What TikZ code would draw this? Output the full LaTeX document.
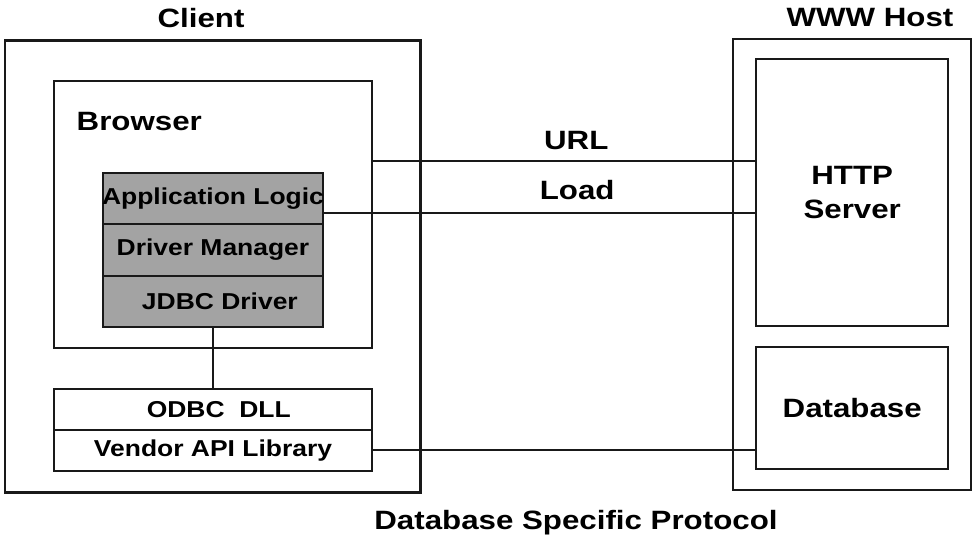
\documentclass[tikz,border=0pt]{standalone}
\usepackage{fontspec}
\setmainfont{Liberation Sans}
\usepackage{graphicx}
\newcommand\bigtx[1]{\scalebox{1.18}[1]{#1}}
\newcommand\smtx[1]{\makebox[0pt]{\scalebox{1.15}[1]{#1}}}
\begin{document}
\begin{tikzpicture}[x=1pt,y=-1pt,line width=2.1pt,
  every node/.style={inner sep=0pt,outer sep=0pt},
  frame/.style={draw=black!90,rectangle,line width=2.1pt},
  layer/.style={frame,fill=black!36,minimum width=219.4pt,minimum height=51.3pt,font=\bfseries\fontsize{23}{26}\selectfont},
  libbox/.style={frame,minimum width=317.4pt,minimum height=41pt,font=\bfseries\fontsize{23}{26}\selectfont},
  biglbl/.style={font=\bfseries\fontsize{26.5}{33.5}\selectfont},
  conn/.style={draw=black!90,line width=2.1pt}]
\useasboundingbox (0,0) rectangle (972,537);
% containers
\node[frame,minimum width=415.5pt,minimum height=452pt] (client) at (212.75,266.5) {};
\node[frame,minimum width=317.4pt,minimum height=266.6pt] (browser) at (213,214.3) {};
\node[frame,minimum width=238pt,minimum height=451.7pt] (host) at (851.6,264.5) {};
\node[frame,minimum width=192pt,minimum height=267pt,biglbl,align=center] (http) at (852.2,192.5)
  {\bigtx{HTTP}\\\bigtx{Server}};
\node[frame,minimum width=192pt,minimum height=122.6pt,biglbl] (db) at (852.2,408) {\makebox[0pt]{\bigtx{Database}}};
% stack
\node[layer] (applogic) at (213,198.7) {\smtx{Application Logic}};
\node[layer] (drvmgr) at (213,250) {\smtx{Driver Manager}};
\node[layer] (jdbc) at (213,301.3) {\smtx{\hspace{12pt}JDBC Driver}};
\node[libbox] (odbc) at (213,409.3) {\smtx{\hspace{10pt}ODBC\ \ DLL}};
\node[libbox] (vendor) at (213,450.4) {\smtx{Vendor API Library}};
% titles
\node[biglbl,anchor=base] (clientlbl) at (201,28) {\bigtx{Client}};
\node[biglbl,anchor=base] (hostlbl) at (870,27) {\bigtx{WWW Host}};
\node[biglbl,anchor=base west] (browserlbl) at (76.7,131) {\bigtx{Browser}};
\node[biglbl,anchor=base] (protolbl) at (576,529) {\bigtx{Database Specific Protocol}};
% connectors
\coordinate (urlrow) at (0,161);
\coordinate (loadrow) at (0,213);
\draw[conn] (browser.east |- urlrow) -- node[pos=0.532,anchor=south,yshift=11.3pt,biglbl] (urllbl) {\bigtx{URL}} (http.west |- urlrow);
\draw[conn] (applogic.east |- loadrow) -- node[pos=0.587,anchor=south,yshift=13pt,biglbl] (loadlbl) {\bigtx{Load}} (http.west |- loadrow);
\draw[conn] (vendor.east) -- (db.west |- vendor.east);
\draw[conn] (jdbc.south) -- (odbc.north);
\end{tikzpicture}
\end{document}
